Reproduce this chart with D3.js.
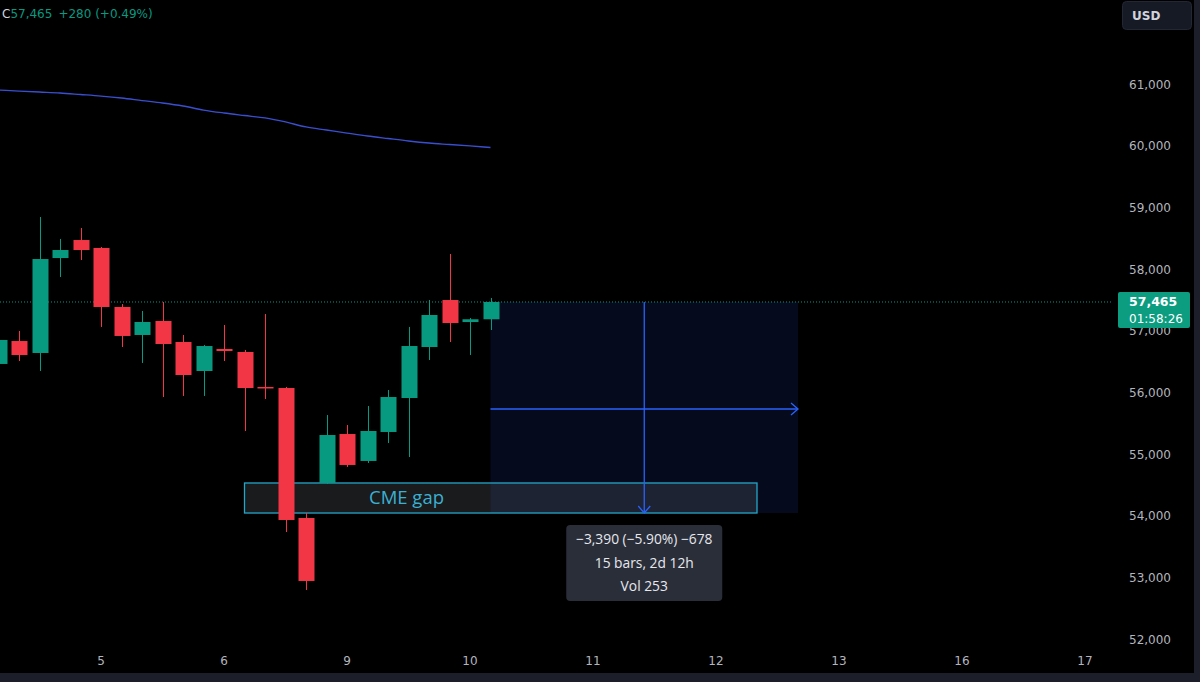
<!DOCTYPE html>
<html><head><meta charset="utf-8">
<script src="https://cdn.jsdelivr.net/npm/d3@7/dist/d3.min.js"></script>
<style>html,body{margin:0;padding:0;background:#000;overflow:hidden}svg{display:block}</style>
</head><body><svg id="c" width="1200" height="682"></svg>
<script>
// ---- data (4h CME bars, index 0 = first visible bar) ----
const opens  = [56460,56832,56638,58178,58470,58341,57384,56930,57157,56816,56346,56703,56654,56087,56070,53962,54530,55324,54887,55357,55908,56735,57497,57140,57185];
const highs  = [57141,56995,58843,58487,58665,58357,57432,57319,57465,56930,56768,57092,56687,57270,56087,54043,55632,55470,55778,56038,57060,57497,58243,57205,57530];
const lows   = [56443,56508,56346,57870,58146,57060,56735,56476,55924,55941,55941,56508,55373,55892,53735,52795,54514,54790,54854,55178,54951,56524,56816,56605,57011];
const closes = [56849,56605,58162,58308,58308,57384,56914,57141,56784,56281,56751,56670,56070,56070,53930,52941,55308,54822,55373,55924,56751,57254,57124,57185,57465];
const maValues = [60903,60886,60870,60854,60830,60805,60773,60732,60692,60643,60578,60530,60489,60449,60384,60303,60254,60205,60157,60116,60076,60043,60019,59995,59970];
const dayLabels = ["5","6","9","10","11","12","13","16","17"];
const dayLabelIdx = [5,11,17,23,29,35,41,47,53];
const priceTicks = [52000,53000,54000,55000,56000,57000,58000,59000,60000,61000];
const lastPrice = 57465, countdown = "01:58:26";
const headerText = ["C", "57,465", "+280 (+0.49%)"];
const gapZone = {fromIdx: 12, toIdx: 37, labelIdx: 20, top: 54530, bottom: 54043, label: "CME gap"};
const measure = {fromIdx: 24, toIdx: 39, from: 57465, to: 54075};
const measureLines = ["\u22123,390 (\u22125.90%) \u2212678", "15 bars, 2d 12h", "Vol 253"];

const GREEN = "#089981", RED = "#f23645", BLUE = "#2962ff", TXT = "#b2b5be";
const svg = d3.select("#c");
const x = d3.scaleLinear().domain([5, 53]).range([101, 1085]);
const y = d3.scaleLinear().domain([52000, 61000]).range([639, 84]);
const bw = 16;

svg.append("rect").attr("width",1200).attr("height",682).attr("fill","#000");
svg.append("defs").append("clipPath").attr("id","plot").append("rect").attr("x",0).attr("y",0).attr("width",1112).attr("height",645);
svg.select("defs").append("clipPath").attr("id","axisclip").append("rect").attr("x",1112).attr("y",0).attr("width",88).attr("height",645);

const plot = svg.append("g").attr("clip-path","url(#plot)");

// measurement rectangle
const mx0 = x(measure.fromIdx), mx1 = x(measure.toIdx), my0 = y(measure.from), my1 = y(measure.to) + 2;
plot.append("rect").attr("x",mx0).attr("y",my0).attr("width",mx1-mx0).attr("height",my1-my0).attr("fill","rgba(41,98,255,0.11)");
// gap zone
const gx0 = x(gapZone.fromIdx), gx1 = x(gapZone.toIdx), gy0 = y(gapZone.top), gy1 = y(gapZone.bottom);
plot.append("rect").attr("x",gx0).attr("y",gy0).attr("width",gx1-gx0).attr("height",gy1-gy0)
  .attr("fill","rgba(120,123,134,0.22)").attr("stroke","#23a6c9").attr("stroke-width",1.3);
plot.append("text").attr("x",x(gapZone.labelIdx) - 2).attr("y",(gy0+gy1)/2+6.5).attr("text-anchor","middle")
  .attr("font-family","Open Sans, sans-serif").attr("font-size",18.5).attr("fill","#3ab0d2").text(gapZone.label);

// measurement arrows
const midY = (my0+my1)/2 + 1.5, midX = (mx0+mx1)/2;
const ab = plot.append("g").attr("stroke",BLUE).attr("stroke-width",1.3).attr("fill","none");
ab.append("line").attr("x1",mx0).attr("x2",mx1).attr("y1",midY).attr("y2",midY);
ab.append("path").attr("d",`M${mx1-7},${midY-6}L${mx1},${midY}L${mx1-7},${midY+6}`);
ab.append("line").attr("x1",midX).attr("x2",midX).attr("y1",my0).attr("y2",my1);
ab.append("path").attr("d",`M${midX-6},${my1-7}L${midX},${my1}L${midX+6},${my1-7}`);

// moving average
plot.append("path").datum(maValues)
  .attr("d", d3.line().x((d,i)=>x(i)).y(d=>y(d)).curve(d3.curveMonotoneX))
  .attr("fill","none").attr("stroke","#3a4fd0").attr("stroke-width",1.3);

// last price dotted line
plot.append("line").attr("x1",0).attr("x2",1118).attr("y1",y(lastPrice)).attr("y2",y(lastPrice))
  .attr("stroke",GREEN).attr("stroke-width",1).attr("stroke-dasharray","1,2");

// candles
const idx = d3.range(opens.length);
const cg = plot.append("g");
cg.selectAll("line.w").data(idx).join("line")
  .attr("x1",i=>Math.round(x(i))+0.5).attr("x2",i=>Math.round(x(i))+0.5)
  .attr("y1",i=>y(highs[i])).attr("y2",i=>y(lows[i]))
  .attr("stroke",i=>closes[i]>=opens[i]?GREEN:RED).attr("stroke-width",1);
cg.selectAll("rect.b").data(idx).join("rect")
  .attr("x",i=>Math.round(x(i))-bw/2+0.5).attr("width",bw)
  .attr("y",i=>y(Math.max(opens[i],closes[i])))
  .attr("height",i=>Math.max(1.5, Math.abs(y(opens[i])-y(closes[i]))))
  .attr("fill",i=>closes[i]>=opens[i]?GREEN:RED);

// tooltip box
const tb = svg.append("g");
tb.append("rect").attr("x",midX-78).attr("y",my1+12).attr("width",156).attr("height",76).attr("rx",4).attr("fill","#2a2e39");
measureLines.forEach((t,k)=>{
  tb.append("text").attr("x",midX).attr("y",my1+31+k*23.5).attr("text-anchor","middle")
    .attr("font-family","Open Sans, sans-serif").attr("font-size",13.8).attr("fill","#e6e8ee").text(t);
});

// y axis labels
const ya = svg.append("g").attr("clip-path","url(#axisclip)");
ya.selectAll("text").data(priceTicks).join("text")
  .attr("x",1129).attr("y",d=>y(d)+4.5)
  .attr("font-family","DejaVu Sans, sans-serif").attr("font-size",12).attr("fill",TXT)
  .text(d=>d3.format(",")(d));

// x axis labels
svg.append("g").selectAll("text").data(dayLabels).join("text")
  .attr("x",(d,i)=>x(dayLabelIdx[i])).attr("y",665).attr("text-anchor","middle")
  .attr("font-family","DejaVu Sans, sans-serif").attr("font-size",12).attr("fill",TXT).text(d=>d);

// last price label
const ly = y(lastPrice);
svg.append("rect").attr("x",1118).attr("y",ly-10).attr("width",72).attr("height",36).attr("rx",2).attr("fill","#0c9c80");
svg.append("text").attr("x",1129).attr("y",ly+4.5).attr("font-family","DejaVu Sans, sans-serif").attr("font-size",12.5).attr("font-weight","bold").attr("fill","#fff").text(d3.format(",")(lastPrice));
svg.append("text").attr("x",1129).attr("y",ly+21).attr("font-family","DejaVu Sans, sans-serif").attr("font-size",12).attr("fill","#fff").text(countdown);

// USD button
svg.append("rect").attr("x",1122.5).attr("y",1.5).attr("width",69).attr("height",28).attr("rx",4).attr("fill","#161a25").attr("stroke","#232734");
svg.append("text").attr("x",1132).attr("y",20).attr("font-family","DejaVu Sans, sans-serif").attr("font-size",12).attr("font-weight","bold").attr("fill","#d1d4dc").text("USD");

// header
const h = svg.append("text").attr("x",2).attr("y",18).attr("font-family","DejaVu Sans, sans-serif").attr("font-size",12);
h.append("tspan").attr("fill","#d1d4dc").text(headerText[0]);
h.append("tspan").attr("fill",GREEN).text(headerText[1]);
h.append("tspan").attr("fill",GREEN).attr("dx",6).text(headerText[2]);

// frame strips
svg.append("rect").attr("x",0).attr("y",673).attr("width",1200).attr("height",9).attr("fill","#1c1f2a");
svg.append("rect").attr("x",1194).attr("y",0).attr("width",6).attr("height",682).attr("fill","#1c1f2a");
</script></body></html>
